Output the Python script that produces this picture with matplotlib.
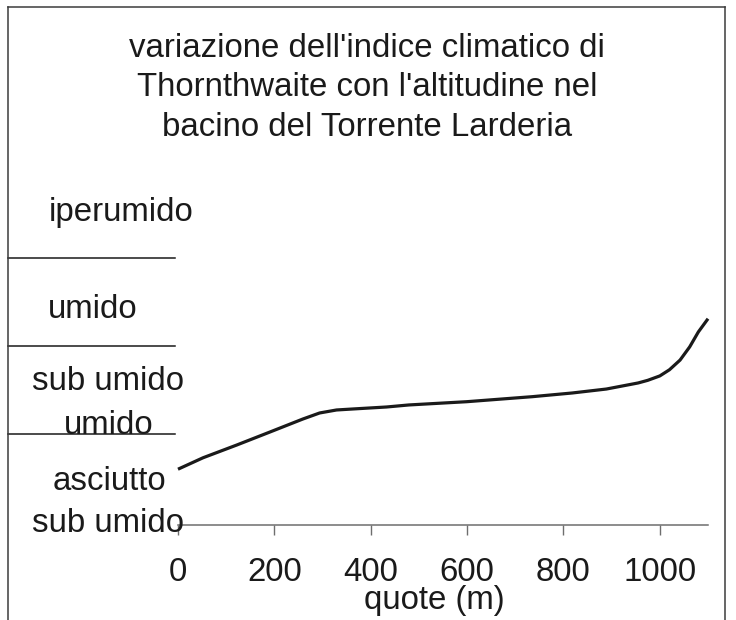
import matplotlib.pyplot as plt
from matplotlib.lines import Line2D
from matplotlib.transforms import blended_transform_factory

# --- data ---
quote = [0, 52, 122, 191, 259, 294, 329, 362, 433, 479, 599, 735, 818, 889, 955,
         975, 1000, 1020, 1042, 1062, 1080, 1100]
indice = [-0.40, -0.27, -0.125, 0.023, 0.17, 0.239, 0.273, 0.284, 0.307, 0.33, 0.367,
          0.424, 0.466, 0.511, 0.58, 0.61, 0.66, 0.73, 0.84, 0.99, 1.16, 1.31]
band_limits = [0, 1, 2]
band_labels = ["iperumido", "umido", "sub umido", "umido", "asciutto", "sub umido"]
x_ticks = [0, 200, 400, 600, 800, 1000]

W, H = 736, 620
FS = 23.8
plt.rcParams['font.family'] = ['Liberation Sans', 'DejaVu Sans']

fig = plt.figure(figsize=(W / 100, H / 100), dpi=100)
fig.patch.set_facecolor('white')

# axes placed in pixel terms: x 178..708, y 200..525
ax = fig.add_axes([178 / W, 1 - 525 / H, 530 / W, 325 / H])
ax.set_facecolor('none')

ax.plot(quote, indice, color='#1a1a1a', lw=2.3, solid_capstyle='butt',
        solid_joinstyle='round', clip_on=False)

ax.set_xlim(0, 1100)
ax.set_ylim(-1.034, 2.659)

for s in ['top', 'right', 'left']:
    ax.spines[s].set_visible(False)
ax.spines['bottom'].set_color('#6e6e6e')
ax.spines['bottom'].set_linewidth(1.1)
ax.set_yticks([])
ax.set_xticks(x_ticks)
ax.set_xticklabels([str(t) for t in x_ticks], fontsize=FS, color='#1a1a1a')
ax.tick_params(axis='x', direction='out', length=7.2, width=1.0, color='#6e6e6e', pad=16)

ax.set_xlabel("quote (m)", fontsize=FS, color='#1a1a1a', va='baseline')
ax.xaxis.set_label_coords((434 - 178) / 530, (525 - 609) / 325)

# category boundaries on the left of the plot
trans = blended_transform_factory(ax.transAxes, ax.transData)
for yb in band_limits:
    ax.plot([(8 - 178) / 530, (175 - 178) / 530], [yb, yb], color='#1a1a1a', lw=1.1,
            transform=trans, clip_on=False)

label_pos = [(121, 212), (93, 310), (108, 382), (109, 425), (109, 482), (108, 523)]
for txt, (px, py) in zip(band_labels, label_pos):
    fig.text(px / W, 1 - py / H, txt, fontsize=FS, color='#1a1a1a', ha='center', va='center')

fig.text(367 / W, 1 - 88 / H,
         "variazione dell'indice climatico di\nThornthwaite con l'altitudine nel\nbacino del Torrente Larderia",
         fontsize=FS, color='#1a1a1a', ha='center', va='center', multialignment='center',
         linespacing=1.37)

# outer frame (bottom edge is off the picture)
fc = '#3c3c3c'
fig.add_artist(Line2D([8 / W, 8 / W], [0, 1 - 7 / H], color=fc, lw=1.1))
fig.add_artist(Line2D([8 / W, 725 / W], [1 - 7 / H, 1 - 7 / H], color=fc, lw=1.1))
fig.add_artist(Line2D([725 / W, 725 / W], [0, 1 - 7 / H], color=fc, lw=1.1))

fig.savefig('out.png', dpi=100, facecolor='white')
